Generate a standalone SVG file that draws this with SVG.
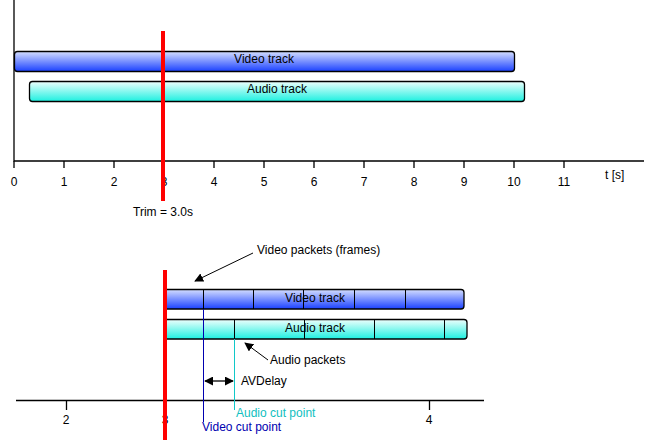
<svg xmlns="http://www.w3.org/2000/svg" width="647" height="447" viewBox="0 0 647 447">
<defs>
<linearGradient id="gv" x1="0" y1="0" x2="0" y2="1"><stop offset="0" stop-color="#d4deff"/><stop offset="1" stop-color="#1a40ff"/></linearGradient>
<linearGradient id="ga" x1="0" y1="0" x2="0" y2="1"><stop offset="0" stop-color="#eefffd"/><stop offset="1" stop-color="#1cf0e0"/></linearGradient>
<marker id="ah" viewBox="0 0 10 10" refX="9" refY="5" markerWidth="9" markerHeight="9" markerUnits="userSpaceOnUse" orient="auto-start-reverse"><path d="M0,0 L10,5 L0,10 Z" fill="#000"/></marker>
</defs>
<style>
text{font-family:"Liberation Sans",Arial,sans-serif;font-size:12px;fill:#000}
.ax{stroke:#000;stroke-width:1.3;fill:none}
.tk{stroke:#000;stroke-width:1.3}
.trk{stroke:#000;stroke-width:1.3}
.div{stroke:#000;stroke-width:1}
.red{stroke:#ff0000;stroke-width:4}
.mid{text-anchor:middle}
</style>
<rect width="647" height="447" fill="#fff"/>
<g id="top-axis">
<path class="ax" d="M14,0 V161 H644"/>
<path class="tk" d="M14,161v7M64,161v7M114,161v7M164,161v7M214,161v7M264,161v7M314,161v7M364,161v7M414,161v7M464,161v7M514,161v7M564,161v7"/>
<g class="mid">
<text x="14" y="186" class="mid">0</text><text x="64" y="186" class="mid">1</text><text x="114" y="186" class="mid">2</text><text x="164" y="186" class="mid">3</text><text x="214" y="186" class="mid">4</text><text x="264" y="186" class="mid">5</text><text x="314" y="186" class="mid">6</text><text x="364" y="186" class="mid">7</text><text x="414" y="186" class="mid">8</text><text x="464" y="186" class="mid">9</text><text x="514" y="186" class="mid">10</text><text x="564" y="186" class="mid">11</text>
</g>
<text x="605" y="179">t [s]</text>
</g>
<g id="top-video">
<rect class="trk" x="14.5" y="51.5" width="500" height="20" rx="3" fill="url(#gv)"/>
<text x="264" y="63" class="mid">Video track</text>
</g>
<g id="top-audio">
<rect class="trk" x="29.5" y="81.5" width="495" height="20" rx="3" fill="url(#ga)"/>
<text x="277" y="93" class="mid">Audio track</text>
</g>
<g id="top-trim">
<line class="red" x1="163" y1="31" x2="163" y2="201"/>
<text x="163" y="216" class="mid">Trim = 3.0s</text>
</g>
<g id="bottom-axis">
<line class="ax" x1="16" y1="400.5" x2="484" y2="400.5"/>
<path class="tk" d="M66.5,400v10M429.5,400v10"/>
<text x="66" y="424" class="mid">2</text>
<text x="165" y="424" class="mid">3</text>
<text x="429" y="424" class="mid">4</text>
</g>
<g id="bottom-video">
<path class="trk" d="M166,289.5 H461 a3,3 0 0 1 3,3 V306 a3,3 0 0 1 -3,3 H166 Z" fill="url(#gv)"/>
<path class="div" d="M203.5,289.5V309M253.5,289.5V309M303.5,289.5V309M354.5,289.5V309M405.5,289.5V309"/>
<text x="315" y="302" class="mid">Video track</text>
</g>
<g id="bottom-audio">
<path class="trk" d="M166,319.5 H464 a3,3 0 0 1 3,3 V336 a3,3 0 0 1 -3,3 H166 Z" fill="url(#ga)"/>
<path class="div" d="M234.5,319.5V339M304.5,319.5V339M374.5,319.5V339M444.5,319.5V339"/>
<text x="315" y="332" class="mid">Audio track</text>
</g>
<g id="bottom-trim">
<line class="red" x1="165" y1="270" x2="165" y2="440"/>
</g>
<g id="cut-points">
<line x1="203.5" y1="309" x2="203.5" y2="422" stroke="#0000b0" stroke-width="1"/>
<text x="202" y="431" style="fill:#0000b0">Video cut point</text>
<line x1="234.5" y1="339" x2="234.5" y2="410" stroke="#10c8c8" stroke-width="1"/>
<text x="236" y="417" style="fill:#10c0c0">Audio cut point</text>
</g>
<g id="labels">
<text x="257" y="254">Video packets (frames)</text>
<text x="270" y="364">Audio packets</text>
<text x="241" y="385">AVDelay</text>
</g>
<g id="connectors">
<line x1="253" y1="253" x2="195" y2="281" stroke="#000" stroke-width="1" marker-end="url(#ah)"/>
<line x1="268" y1="360" x2="245" y2="343" stroke="#000" stroke-width="1" marker-end="url(#ah)"/>
<line x1="205" y1="381" x2="233" y2="381" stroke="#000" stroke-width="1.3" marker-start="url(#ah)" marker-end="url(#ah)"/>
</g>
</svg>
